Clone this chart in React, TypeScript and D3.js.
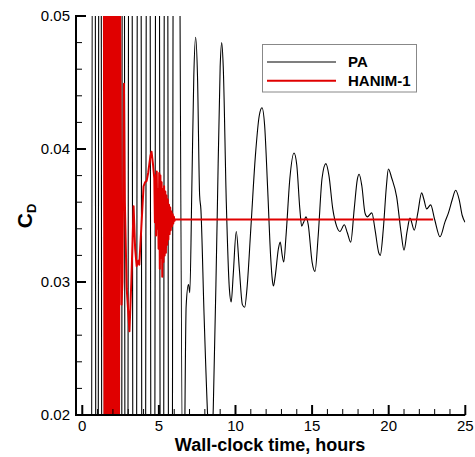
import React from "react";
import * as d3 from "d3";

// PA series (hours, C_D)
const paTime = [
  0.55, 0.77, 0.96, 1.155, 1.35, 1.545, 1.74, 1.94, 2.135, 2.33, 2.51, 2.67, 2.865, 3.135, 3.42, 3.715, 4.01, 4.3, 4.605, 4.91, 5.21, 5.455, 5.75, 6.06,
  6.6, 6.78, 6.93, 7.02, 7.15, 7.28, 7.4, 7.52, 7.66, 7.74, 7.95, 8.2, 8.37, 8.55, 8.8, 9.0, 9.1, 9.2, 9.4, 9.6, 9.72, 9.85, 10.05, 10.25, 10.45, 10.6, 10.75, 11.0, 11.3, 11.55, 11.73, 11.9, 12.1, 12.3, 12.4, 12.48, 12.6, 12.8, 12.92, 13.05, 13.15, 13.3, 13.55, 13.82,
  14.0, 14.2, 14.32, 14.45, 14.6, 14.75, 15.0, 15.19, 15.4, 15.65, 15.9,
  16.1, 16.35, 16.6, 16.82, 17.1, 17.3, 17.52, 17.75, 17.95, 18.07,
  18.25, 18.45, 18.6, 18.9, 19.1, 19.35, 19.45, 19.65, 19.85, 19.98,
  20.2, 20.52, 20.8, 21.0, 21.2, 21.39, 21.67, 21.9, 22.15, 22.3, 22.48, 22.74, 23.0, 23.35, 23.67, 23.9, 24.15, 24.37, 24.6, 24.8, 24.98,
];
const paValue = [
  -0.05, 0.12, -0.05, 0.12, -0.05, 0.12, -0.05, 0.12, -0.05, 0.12, -0.05, 0.12, -0.05, 0.12, -0.05, 0.12, -0.05, 0.12, -0.05, 0.12, -0.05, 0.12, -0.05, 0.12,
  0.01, 0.0282, 0.0298, 0.0292, 0.037, 0.0455, 0.0484, 0.0455, 0.0365, 0.0355, 0.0275, 0.0195, 0.0165, 0.0205, 0.0345, 0.0462, 0.048, 0.0462, 0.036, 0.0295, 0.0285, 0.0305, 0.0338, 0.031, 0.0283, 0.0281, 0.0295, 0.034, 0.0395, 0.0425, 0.0431, 0.0418, 0.037, 0.0318, 0.0302, 0.0297, 0.0305, 0.0325, 0.033, 0.032, 0.0315, 0.0335, 0.0378, 0.0397,
  0.0388, 0.0355, 0.0342, 0.0345, 0.0349, 0.0343, 0.0315, 0.0308, 0.0335, 0.0378, 0.0389,
  0.038, 0.0355, 0.0342, 0.0338, 0.0343, 0.0337, 0.033, 0.0355, 0.0377, 0.0381,
  0.0372, 0.0352, 0.0349, 0.0352, 0.034, 0.0322, 0.032, 0.034, 0.0372, 0.0385,
  0.0378, 0.0364, 0.0338, 0.0324, 0.0338, 0.0348, 0.0339, 0.0352, 0.0367, 0.0362, 0.0355, 0.0358, 0.0347, 0.0334, 0.0345, 0.0352, 0.0362, 0.0369, 0.0362, 0.035, 0.0345,
];

// HANIM-1 series (hours, C_D)
const hanimTime = [
  1.4, 1.46, 1.52, 1.57, 1.63, 1.69, 1.75, 1.8, 1.86, 1.92, 1.98, 2.04, 2.09, 2.15, 2.21, 2.27, 2.33, 2.39, 2.45, 2.56, 2.62, 2.72, 2.78, 2.9, 3.08, 3.2, 3.35, 3.45, 3.55, 3.65, 3.72, 3.85, 4.0, 4.1, 4.2, 4.3, 4.45, 4.52, 4.62,
  4.7, 4.74, 4.78, 4.82, 4.86, 4.9, 4.94, 4.98, 5.02, 5.06, 5.1, 5.14, 5.18, 5.22, 5.26, 5.3, 5.34, 5.38, 5.42, 5.46, 5.5, 5.54, 5.58, 5.62, 5.66, 5.7, 5.74, 5.78, 5.82, 5.86, 5.9, 5.94, 5.98, 6.02, 6.06, 22.9,
];
const hanimValue = [
  0.06, 0.012, 0.062, 0.01, 0.06, 0.012, 0.061, 0.01, 0.062, 0.011, 0.06, 0.012, 0.06, 0.01, 0.061, 0.012, 0.06, 0.015, 0.055, 0.0283, 0.03, 0.0449, 0.036, 0.0295, 0.0263, 0.03, 0.0357, 0.0325, 0.0312, 0.0316, 0.0313, 0.034, 0.0372, 0.0375, 0.0376, 0.0382, 0.0395, 0.0398, 0.0388,
  0.0378, 0.0345, 0.038, 0.0335, 0.0383, 0.034, 0.037, 0.0325, 0.0382, 0.031, 0.038, 0.0318, 0.0375, 0.0304, 0.037, 0.0315, 0.0372, 0.032, 0.0368, 0.0322, 0.0365, 0.0328, 0.0362, 0.0332, 0.0358, 0.0336, 0.0356, 0.0339, 0.0353, 0.0342, 0.0351, 0.0344, 0.0349, 0.0346, 0.0347, 0.0347,
];

const xTicks = [0, 5, 10, 15, 20, 25];
const yTicks = [0.02, 0.03, 0.04, 0.05];
const seriesNames = ["PA", "HANIM-1"];

const FONT = "'Liberation Sans', Arial, Helvetica, sans-serif";

export default function App() {
  const x = d3.scaleLinear().domain([-0.41, 25]).range([76, 465.3]);
  const y = d3.scaleLinear().domain([0.02, 0.05]).range([415, 16]);

  const pa = paTime.map((t, i) => [t, paValue[i]] as [number, number]);
  const hn = hanimTime.map((t, i) => [t, hanimValue[i]] as [number, number]);

  const linePA = d3
    .line<[number, number]>()
    .x((d) => x(d[0]))
    .y((d) => y(d[1]))
    .curve(d3.curveMonotoneX);
  const lineH = d3
    .line<[number, number]>()
    .x((d) => x(d[0]))
    .y((d) => y(d[1]));

  const xMinor = d3.range(0, 25.5, 1).filter((v) => v % 5 !== 0);
  const yMinor = d3.range(0.022, 0.0495, 0.002).filter((v) => Math.abs(v * 100 - Math.round(v * 100)) > 1e-6);

  const [x0, x1] = x.range();
  const [yb, yt] = y.range();

  return (
    <div style={{ position: "absolute", left: 0, top: 0 }}>
      <svg width={475} height={457} style={{ display: "block", background: "#fff" }}>
        <defs>
          <clipPath id="plotclip">
            <rect x={x0} y={yt} width={x1 - x0} height={yb - yt} />
          </clipPath>
        </defs>
        <g clipPath="url(#plotclip)">
          <path d={linePA(pa) || ""} fill="none" stroke="#000" strokeWidth={1.1} />
          <path d={lineH(hn) || ""} fill="none" stroke="#e00000" strokeWidth={2} strokeLinejoin="round" />
        </g>
        {/* axes */}
        <line x1={x0} x2={x0} y1={yt - 1} y2={yb} stroke="#000" strokeWidth={2} />
        <line x1={x0 - 1} x2={x1} y1={yb} y2={yb} stroke="#000" strokeWidth={2} />
        {yTicks.map((v) => (
          <g key={"yt" + v}>
            <line x1={x0} x2={x0 + 10} y1={y(v)} y2={y(v)} stroke="#000" strokeWidth={2} />
            <text x={70} y={y(v)} dy="0.35em" textAnchor="end" fontFamily={FONT} fontSize={15}>
              {v.toFixed(2)}
            </text>
          </g>
        ))}
        {yMinor.map((v) => (
          <line key={"ym" + v} x1={x0} x2={x0 + 6} y1={y(v)} y2={y(v)} stroke="#000" strokeWidth={1} />
        ))}
        {xTicks.map((v) => (
          <g key={"xt" + v}>
            <line x1={x(v)} x2={x(v)} y1={yb} y2={yb - 10} stroke="#000" strokeWidth={2} />
            <text x={x(v)} y={431} textAnchor="middle" fontFamily={FONT} fontSize={15}>
              {v}
            </text>
          </g>
        ))}
        {xMinor.map((v) => (
          <line key={"xm" + v} x1={x(v)} x2={x(v)} y1={yb} y2={yb - 6} stroke="#000" strokeWidth={1} />
        ))}
        <text x={270} y={451} textAnchor="middle" fontFamily={FONT} fontSize={18} fontWeight="bold">
          Wall-clock time, hours
        </text>
        <text transform="translate(32,216) rotate(-90)" textAnchor="middle" fontFamily={FONT} fontWeight="bold">
          <tspan fontSize={21}>C</tspan>
          <tspan fontSize={13} dy={4}>D</tspan>
        </text>
        {/* legend */}
        <rect x={262.5} y={44.5} width={154} height={47.5} fill="#fff" stroke="#888" strokeWidth={1} />
        <line x1={267} x2={336} y1={62} y2={62} stroke="#000" strokeWidth={1.1} />
        <line x1={267} x2={336} y1={80.7} y2={80.7} stroke="#e00000" strokeWidth={2} />
        <text x={348} y={67} fontFamily={FONT} fontSize={15} fontWeight="bold">
          {seriesNames[0]}
        </text>
        <text x={348} y={86} fontFamily={FONT} fontSize={15} fontWeight="bold">
          {seriesNames[1]}
        </text>
      </svg>
    </div>
  );
}
